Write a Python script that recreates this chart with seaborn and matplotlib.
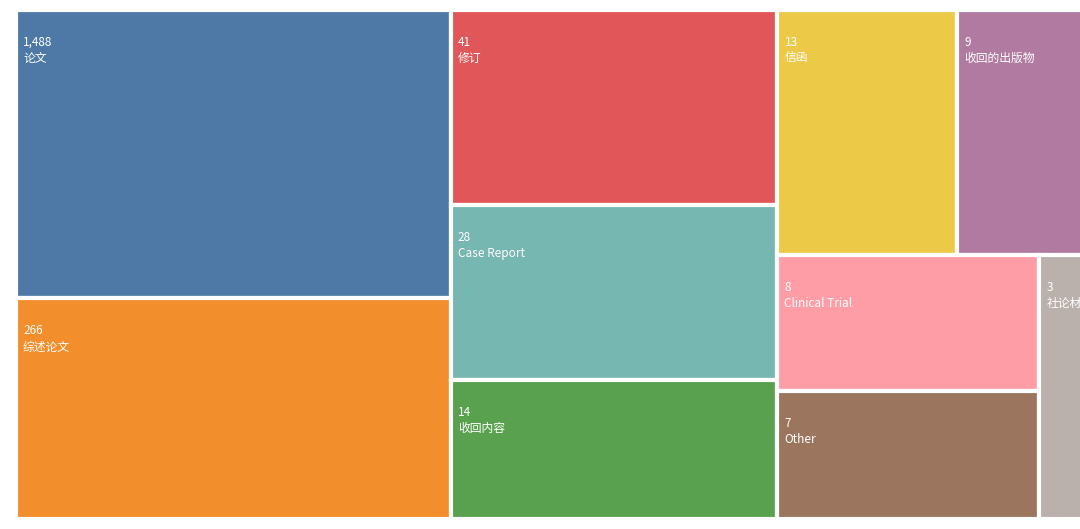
import numpy as np
import matplotlib
matplotlib.use('Agg')
import matplotlib.pyplot as plt
import seaborn as sns

labels = ["论文", "综述论文", "修订", "Case Report", "收回内容", "信函", "收回的出版物",
          "Clinical Trial", "Other", "社论材料"]
values = [1488, 266, 41, 28, 14, 13, 9, 8, 7, 3]
colors = sns.color_palette(["#4e79a7", "#f28e2b", "#e15759", "#76b7b2", "#59a14f",
                            "#edc948", "#b07aa1", "#ff9da7", "#9c755f", "#bab0ac"])

# grouping of tiles (indices into values), nested splits alternate direction
tree = [[0, 1], [2, 3, 4], [[5, 6], [[7, 8], 9]]]
weights = np.log(values)


def weight(node):
    if isinstance(node, int):
        return weights[node]
    return sum(weight(n) for n in node)


def split(node, x, y, w, h, horiz, out):
    if isinstance(node, int):
        out[node] = (x, y, w, h)
        return
    total = weight(node)
    pos = 0.0
    for child in node:
        f = weight(child) / total
        if horiz:
            split(child, x + pos * w, y, f * w, h, not horiz, out)
        else:
            split(child, x, y + pos * h, w, f * h, not horiz, out)
        pos += f


sns.set_style("white")
plt.rcParams['font.family'] = ['Noto Sans CJK SC', 'DejaVu Sans']

W, H = 1095, 509
fig = plt.figure(figsize=(10.8, 5.29), dpi=100)
ax = fig.add_axes([16 / 1080, 10 / 529, W / 1080, H / 529])
rects = {}
split(tree, 0, 0, W, H, True, rects)
for i, (v, lab, c) in enumerate(zip(values, labels, colors)):
    rx, ry, rw, rh = rects[i]
    ax.add_patch(plt.Rectangle((rx, ry), rw, rh, facecolor=c, edgecolor='white', linewidth=3))
    ax.text(rx + 7, ry + 26, f"{v:,}\n{lab}", color='white', fontsize=8.5,
            va='top', ha='left', linespacing=1.3)
ax.set_xlim(0, W)
ax.set_ylim(H, 0)
ax.axis('off')
fig.savefig("out.png", dpi=100)
